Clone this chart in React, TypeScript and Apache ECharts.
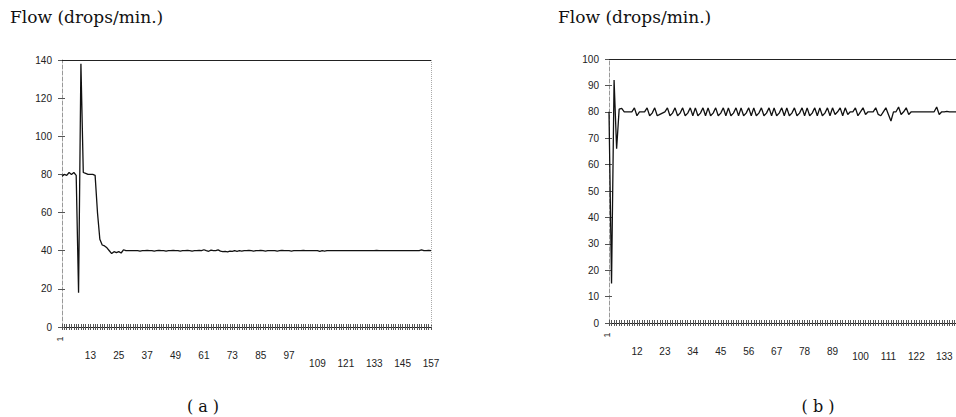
import React, { useEffect, useRef } from "react";
import * as echarts from "echarts";

// Chart (a): flow in drops/min., samples 1..157
const flowA: number[] = [
  79, 80, 79.5, 81, 80, 81, 79.5, 18, 138, 81,
  80.5, 80, 80, 80, 79.5, 60, 46, 43, 42.5, 41.5,
  40, 38.5, 39.5, 39, 39.5, 38.8, 40.5, 40,
  40, 40, 40, 40, 40, 39.8, 40, 40, 40.2, 40,
  40, 39.8, 40, 40.2, 40, 40, 39.8, 40, 40, 40.2,
  40, 40, 39.8, 40, 40, 40.2, 40, 39.8, 40, 40,
  40.2, 40, 40.5, 40, 39.7, 40.3, 40, 40, 40.4, 39.8,
  39.5, 39.6, 39.4, 39.8, 39.6, 40, 39.7, 40, 39.8, 40,
  40, 40.2, 40, 39.8, 40, 40, 40.2, 40, 39.8, 40,
  40, 40, 40, 39.8, 40, 40.2, 40, 40, 40, 39.8,
  40, 40, 40, 40, 40.2, 40, 40, 40, 40, 40,
  40, 39.6, 40, 39.8, 40, 40, 40, 40, 40, 40,
  40, 40, 40, 40, 40, 40, 40, 40, 40, 40,
  40, 40, 40, 40, 40, 40.2, 40, 40, 40, 40,
  40, 40, 40, 40, 40, 40, 40, 40, 40, 40,
  40, 40, 40, 40, 40.4, 40, 40, 40.2, 40,
];

// Chart (b): flow in drops/min., samples 1..138 (the visible part, cut at the right edge)
const flowB: number[] = [
  80, 15, 92, 66, 81, 81.3, 80, 80, 80, 80,
  81.5, 78.5, 80, 80, 80, 81.5, 78.5, 79.5, 81.5, 78.5,
  79, 79.5, 80, 81.5, 78.5, 79.5, 81.5, 78.5, 79.5, 81.5,
  78.5, 79.5, 81.5, 78.5, 81.5, 78.5, 79.5, 81.5, 78.5, 81.5,
  78.5, 79.5, 81.5, 78.5, 79.5, 81.5, 78.5, 81.5, 78.5, 79.5,
  81.5, 78.5, 81.5, 78.5, 79.5, 81.5, 78.5, 81.5, 78.5, 79.5,
  81.5, 78.5, 79.5, 81.5, 78.5, 81.5, 78.5, 79.5, 81.5, 78.5,
  81.5, 78.5, 79.5, 81.5, 78.5, 79.5, 81.5, 78.5, 81.5, 78.5,
  79.5, 81.5, 78.5, 81.5, 78.5, 79.5, 81.5, 78.5, 81.5, 79,
  80, 81.5, 78.5, 81.5, 79, 80, 80, 81.5, 78.5, 80,
  81.5, 79, 80, 80, 80, 81.5, 79, 78.5, 80, 81.5,
  79, 76.5, 80, 80, 81.8, 79, 80, 81.5, 79, 80,
  80, 80, 80, 80, 80, 80, 80, 80, 80, 81.8,
  79, 80, 80, 80.2, 80, 80, 80, 80,
];

const catsA: string[] = flowA.map((_, i) => String(i + 1));
const catsB: string[] = flowB.map((_, i) => String(i + 1));

const yMaxA = 140;
const yStepA = 20;
const yMaxB = 100;
const yStepB = 10;
const labelEveryA = 12;
const labelEveryB = 11;

const titleText = "Flow (drops/min.)";
const captionA = "( a )";
const captionB = "( b )";
const firstLabel = "1";

export default function App() {
  const ref = useRef<HTMLDivElement>(null);

  useEffect(() => {
    if (!ref.current) return;
    const chart = echarts.init(ref.current, null, { renderer: "svg" });

    const labelFont = { fontFamily: "Liberation Sans", fontSize: 10, color: "#222" };
    const tickStyle = { color: "#555", width: 1 };

    const makeX = (grid: number, cats: string[], every: number, lowMargin: number) => [
      {
        type: "category",
        gridIndex: grid,
        data: cats,
        position: "bottom",
        boundaryGap: false,
        axisLine: { show: true, onZero: false, lineStyle: { color: "#222", width: 1 } },
        axisTick: { show: true, interval: 0, length: 3, lineStyle: tickStyle },
        axisLabel: {
          ...labelFont,
          margin: 23,
          interval: (idx: number, v: string) => idx > 0 && idx % every === 0 && v.length < 3,
        },
        splitLine: { show: false },
      },
      {
        type: "category",
        gridIndex: grid,
        data: cats,
        position: "bottom",
        boundaryGap: false,
        axisLine: { show: false, onZero: false },
        axisTick: { show: true, inside: true, interval: 0, length: 3, lineStyle: tickStyle },
        axisLabel: {
          ...labelFont,
          margin: lowMargin,
          interval: (idx: number, v: string) => idx > 0 && idx % every === 0 && v.length >= 3,
        },
        splitLine: { show: false },
      },
    ];

    const makeY = (grid: number, max: number, step: number) => [
      {
        type: "value",
        gridIndex: grid,
        position: "left",
        min: 0,
        max,
        interval: step,
        axisLine: { show: true, lineStyle: { color: "#999", type: "dashed", width: 1 } },
        axisTick: { show: true, length: 4, lineStyle: tickStyle },
        axisLabel: { ...labelFont, margin: 10 },
        splitLine: { show: false },
      },
      {
        type: "value",
        gridIndex: grid,
        position: "left",
        min: 0,
        max,
        interval: step,
        axisLine: { show: false },
        axisTick: { show: true, inside: true, length: 3, lineStyle: tickStyle },
        axisLabel: { show: false },
        splitLine: { show: false },
      },
    ];

    const serif = '17px "DejaVu Serif", "Liberation Serif", serif';
    const captionFont = '16px "DejaVu Serif", "Liberation Serif", serif';

    chart.setOption({
      animation: false,
      backgroundColor: "#ffffff",
      grid: [
        { left: 62, top: 60, width: 369, height: 267, containLabel: false, outerBoundsMode: "none" },
        { left: 609, top: 59, width: 348, height: 264, containLabel: false, outerBoundsMode: "none" },
      ],
      xAxis: [
        ...makeX(0, catsA, labelEveryA, 31),
        ...makeX(1, catsB, labelEveryB, 28),
      ],
      yAxis: [...makeY(0, yMaxA, yStepA), ...makeY(1, yMaxB, yStepB)],
      series: [
        {
          type: "line",
          xAxisIndex: 0,
          yAxisIndex: 0,
          data: flowA,
          showSymbol: false,
          symbol: "none",
          lineStyle: { color: "#111", width: 1.3 },
          markLine: {
            silent: true,
            symbol: "none",
            label: { show: false },
            data: [
              { yAxis: yMaxA, lineStyle: { color: "#222", type: "solid", width: 1 } },
              { xAxis: catsA[catsA.length - 1], lineStyle: { color: "#aaa", type: "dotted", width: 1 } },
            ],
          },
        },
        {
          type: "line",
          xAxisIndex: 2,
          yAxisIndex: 2,
          data: flowB,
          showSymbol: false,
          symbol: "none",
          lineStyle: { color: "#111", width: 1.3 },
          markLine: {
            silent: true,
            symbol: "none",
            label: { show: false },
            data: [{ yAxis: yMaxB, lineStyle: { color: "#222", type: "solid", width: 1 } }],
          },
        },
      ],
      graphic: [
        { type: "text", x: 10, y: 8, style: { text: titleText, font: serif, fill: "#111" } },
        { type: "text", x: 558, y: 8, style: { text: titleText, font: serif, fill: "#111" } },
        {
          type: "text",
          x: 203,
          y: 406,
          style: { text: captionA, font: captionFont, fill: "#111", align: "center", verticalAlign: "middle" },
        },
        {
          type: "text",
          x: 818,
          y: 406,
          style: { text: captionB, font: captionFont, fill: "#111", align: "center", verticalAlign: "middle" },
        },
        {
          type: "text",
          x: 60,
          y: 339,
          rotation: Math.PI / 2,
          style: { text: firstLabel, font: '9px "Liberation Sans"', fill: "#222", align: "center", verticalAlign: "middle" },
        },
        {
          type: "text",
          x: 607,
          y: 335,
          rotation: Math.PI / 2,
          style: { text: firstLabel, font: '9px "Liberation Sans"', fill: "#222", align: "center", verticalAlign: "middle" },
        },
      ],
    });

    return () => chart.dispose();
  }, []);

  return (
    <div
      ref={ref}
      style={{ position: "absolute", left: 0, top: 0, width: 956, height: 417, background: "#fff" }}
    />
  );
}
